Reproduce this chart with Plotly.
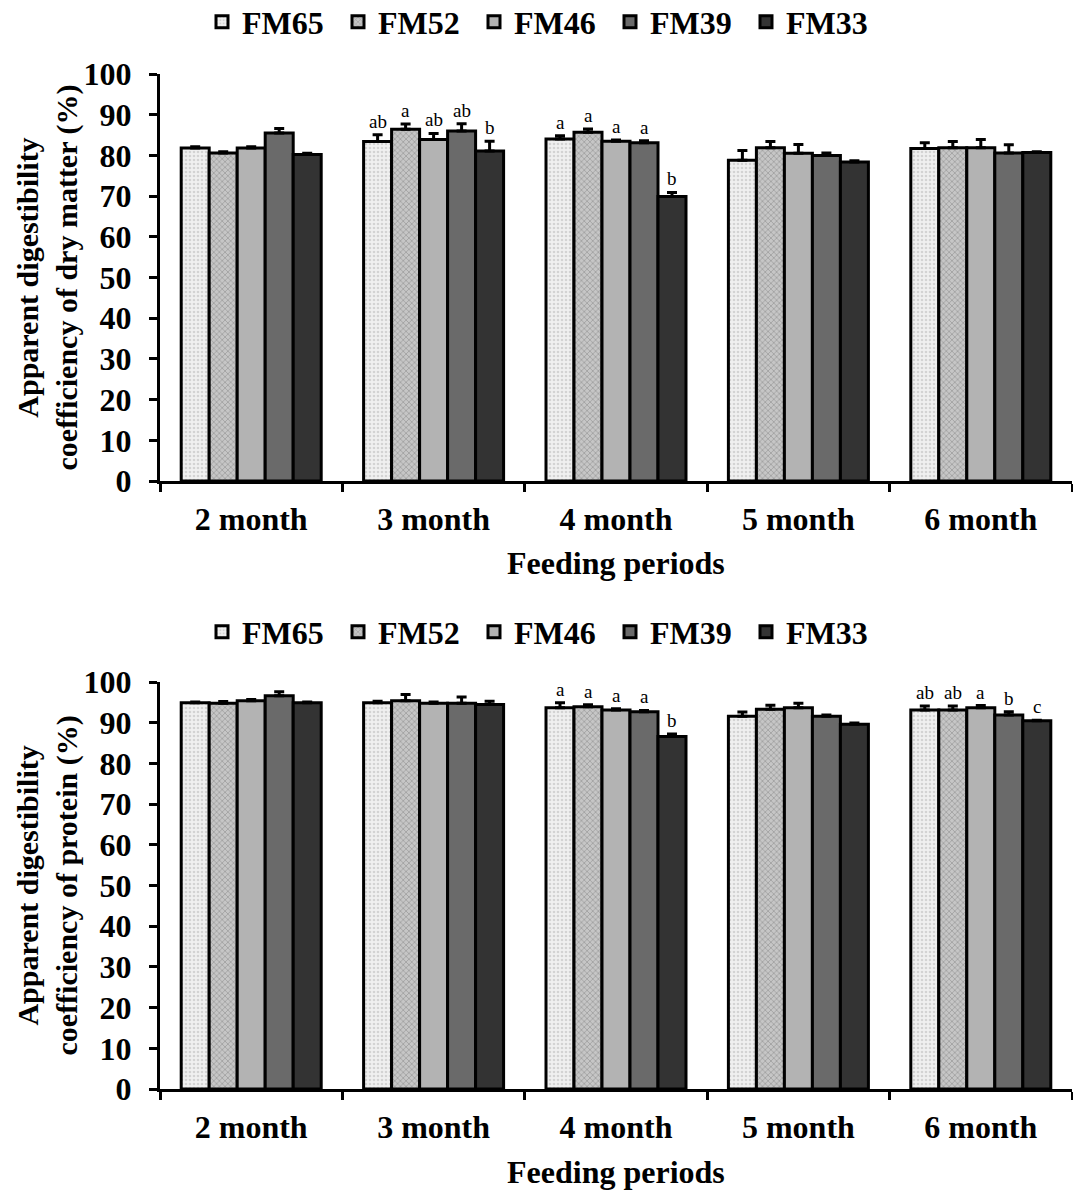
import plotly.graph_objects as go

# Feeding periods (categories) and diet groups (series)
periods = ["2 month", "3 month", "4 month", "5 month", "6 month"]
groups = ["FM65", "FM52", "FM46", "FM39", "FM33"]

# Apparent digestibility coefficient of dry matter (%), mean and SE per group
dm_fm65 = [81.8, 83.4, 84.0, 78.8, 81.7]
dm_fm52 = [80.6, 86.4, 85.7, 81.9, 81.9]
dm_fm46 = [81.8, 83.9, 83.5, 80.5, 81.9]
dm_fm39 = [85.5, 86.0, 83.1, 80.0, 80.6]
dm_fm33 = [80.2, 81.1, 69.9, 78.4, 80.7]
dm_se_fm65 = [0.3, 1.7, 0.8, 2.4, 1.4]
dm_se_fm52 = [0.3, 1.3, 0.8, 1.5, 1.5]
dm_se_fm46 = [0.3, 1.5, 0.3, 2.2, 2.0]
dm_se_fm39 = [1.1, 1.8, 0.5, 0.6, 2.0]
dm_se_fm33 = [0.3, 2.4, 1.0, 0.3, 0.2]
# Significance letters (per group, per period)
dm_sig_fm65 = ["", "ab", "a", "", ""]
dm_sig_fm52 = ["", "a", "a", "", ""]
dm_sig_fm46 = ["", "ab", "a", "", ""]
dm_sig_fm39 = ["", "ab", "a", "", ""]
dm_sig_fm33 = ["", "b", "b", "", ""]

# Apparent digestibility coefficient of protein (%), mean and SE per group
cp_fm65 = [94.9, 94.9, 93.7, 91.6, 93.1]
cp_fm52 = [94.8, 95.4, 93.9, 93.3, 93.1]
cp_fm46 = [95.4, 94.8, 93.1, 93.7, 93.7]
cp_fm39 = [96.6, 94.8, 92.7, 91.6, 91.9]
cp_fm33 = [94.9, 94.5, 86.6, 89.6, 90.5]
cp_se_fm65 = [0.2, 0.4, 1.2, 1.0, 1.0]
cp_se_fm52 = [0.4, 1.5, 0.5, 1.0, 1.0]
cp_se_fm46 = [0.3, 0.3, 0.3, 1.1, 0.5]
cp_se_fm39 = [1.0, 1.5, 0.3, 0.3, 0.8]
cp_se_fm33 = [0.2, 0.8, 0.6, 0.3, 0.1]
cp_sig_fm65 = ["", "", "a", "", "ab"]
cp_sig_fm52 = ["", "", "a", "", "ab"]
cp_sig_fm46 = ["", "", "a", "", "a"]
cp_sig_fm39 = ["", "", "a", "", "b"]
cp_sig_fm33 = ["", "", "b", "", "c"]

y_ticks = list(range(0, 101, 10))

dm_vals = [dm_fm65, dm_fm52, dm_fm46, dm_fm39, dm_fm33]
dm_errs = [dm_se_fm65, dm_se_fm52, dm_se_fm46, dm_se_fm39, dm_se_fm33]
dm_sigs = [dm_sig_fm65, dm_sig_fm52, dm_sig_fm46, dm_sig_fm39, dm_sig_fm33]
cp_vals = [cp_fm65, cp_fm52, cp_fm46, cp_fm39, cp_fm33]
cp_errs = [cp_se_fm65, cp_se_fm52, cp_se_fm46, cp_se_fm39, cp_se_fm33]
cp_sigs = [cp_sig_fm65, cp_sig_fm52, cp_sig_fm46, cp_sig_fm39, cp_sig_fm33]

# Fill styles: textured light greys, then flat greys getting darker
fills = [
    dict(color="#f0f0f0", pattern=dict(shape=".", fgcolor="#b5b5b5", bgcolor="#f0f0f0", size=4, solidity=0.35)),
    dict(color="#b0b0b0", pattern=dict(shape="x", fgcolor="#808080", bgcolor="#c6c6c6", size=4, solidity=0.4)),
    dict(color="#b3b3b3"),
    dict(color="#6a6a6a"),
    dict(color="#333333"),
]

SERIF = "Liberation Serif"
W, H = 1073, 1192
BARGAP = 0.2325
BAR_W = (1 - BARGAP) / len(groups)

fig = go.Figure()
annotations = []


def add_panel(vals, errs, sigs, xa, ya, legend_name):
    for j, name in enumerate(groups):
        fig.add_trace(go.Bar(
            x=periods, y=vals[j], name=name,
            marker=dict(**fills[j], line=dict(color="black", width=3)),
            error_y=dict(type="data", symmetric=False, array=errs[j],
                         arrayminus=[0] * len(periods), color="black",
                         thickness=3, width=5),
            xaxis=xa, yaxis=ya, legend=legend_name, showlegend=True,
        ))
        for i, lab in enumerate(sigs[j]):
            if lab:
                annotations.append(dict(
                    x=i + (j - (len(groups) - 1) / 2) * BAR_W,
                    y=vals[j][i] + errs[j][i],
                    xref=xa, yref=ya, text=lab, showarrow=False,
                    xanchor="center", yanchor="bottom", yshift=1,
                    font=dict(family=SERIF, size=19, color="black"),
                ))


add_panel(dm_vals, dm_errs, dm_sigs, "x", "y", "legend")
add_panel(cp_vals, cp_errs, cp_sigs, "x2", "y2", "legend2")

x_dom = [160 / W, 1072 / W]
top_dom = [1 - 481 / H, 1 - 74 / H]
bot_dom = [1 - 1089 / H, 1 - 682 / H]

tick_font = dict(family=SERIF, size=32, color="black", weight="bold")
title_font = dict(family=SERIF, size=30, color="black")
xcommon = dict(
    domain=x_dom, type="category", range=[-0.5, 4.5], tickson="boundaries",
    ticks="outside", ticklen=8, tickwidth=3, tickcolor="black",
    showline=True, linecolor="black", linewidth=3, showgrid=False,
    tickfont=tick_font, ticklabelstandoff=8, fixedrange=True, automargin=False,
)
ycommon = dict(
    range=[0, 100], tickvals=y_ticks, ticks="outside", ticklen=8, tickwidth=3,
    tickcolor="black", showline=True, linecolor="black", linewidth=3,
    showgrid=False, zeroline=False, tickfont=tick_font, ticklabelstandoff=11,
    fixedrange=True, automargin=False,
)

# Axis titles
for txt, dom in [
    ("<b>Apparent digestibility<br>coefficiency of dry matter (%)</b>", top_dom),
    ("<b>Apparent digestibility<br>coefficiency of protein (%)</b>", bot_dom),
]:
    annotations.append(dict(
        x=47 / W, y=(dom[0] + dom[1]) / 2, xref="paper", yref="paper",
        text=txt, textangle=-90, showarrow=False, xanchor="center",
        yanchor="middle", font=title_font,
    ))
for yy in [1 - 563 / H, 1 - 1172 / H]:
    annotations.append(dict(
        x=(x_dom[0] + x_dom[1]) / 2, y=yy, xref="paper", yref="paper",
        text="<b>Feeding periods</b>", showarrow=False, xanchor="center",
        yanchor="middle", font=dict(family=SERIF, size=32, color="black"),
    ))

legend_common = dict(
    orientation="h", xanchor="left", yanchor="middle", x=202 / W,
    font=dict(family=SERIF, size=32, color="black", weight="bold"),
    entrywidth=91, entrywidthmode="pixels", itemwidth=30,
    bgcolor="rgba(0,0,0,0)", itemclick=False, itemdoubleclick=False,
)

fig.update_layout(
    width=W, height=H, autosize=False,
    margin=dict(l=0, r=0, t=0, b=0, autoexpand=False),
    paper_bgcolor="white", plot_bgcolor="white",
    barmode="group", bargap=BARGAP, bargroupgap=0,
    font=dict(family=SERIF, color="black"),
    xaxis=dict(**xcommon, anchor="y"),
    yaxis=dict(**ycommon, domain=top_dom, anchor="x"),
    xaxis2=dict(**xcommon, anchor="y2"),
    yaxis2=dict(**ycommon, domain=bot_dom, anchor="x2"),
    legend=dict(**legend_common, y=1 - 22 / H),
    legend2=dict(**legend_common, y=1 - 632 / H),
    annotations=annotations,
)

fig.write_html("out.html")
